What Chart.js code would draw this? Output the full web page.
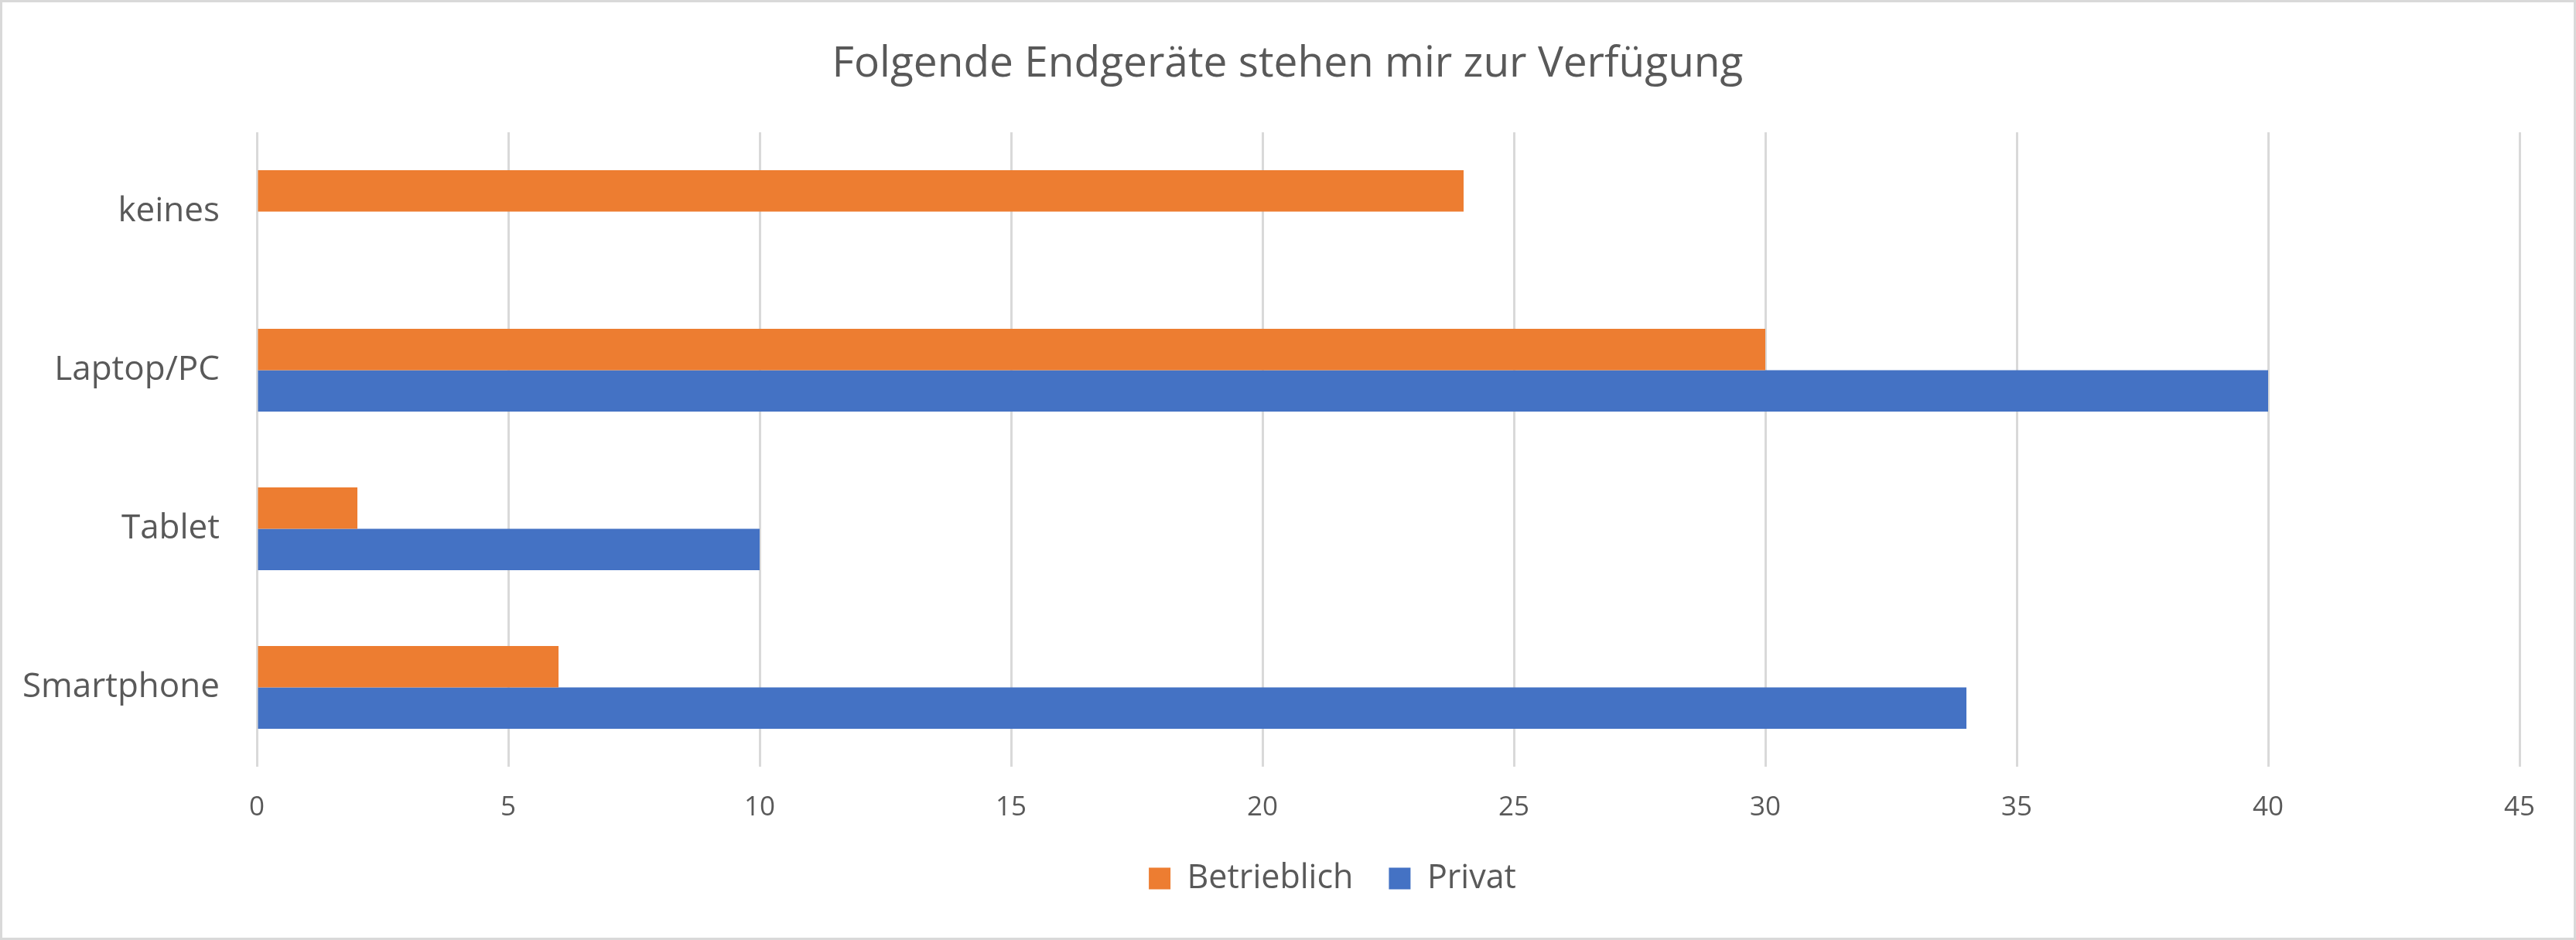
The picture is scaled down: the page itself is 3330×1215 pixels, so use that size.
<!DOCTYPE html>
<html>
<head>
<meta charset="utf-8">
<script src="https://cdn.jsdelivr.net/npm/chart.js@4.4.1/dist/chart.umd.min.js"></script>
<style>
  html, body { margin: 0; padding: 0; background: #fff; }
  canvas { display: block; }
</style>
</head>
<body>
<canvas id="devices-chart" width="3330" height="1215"></canvas>
<script>
// chart data
const categories = ['keines', 'Laptop/PC', 'Tablet', 'Smartphone'];
const betrieblich = [24, 30, 2, 6];
const privat = [0, 40, 10, 34];
const seriesNames = ['Betrieblich', 'Privat'];
const xMin = 0;
const xMax = 45;
const xStep = 5;

const textGrey = '#595959';
const gridGrey = '#D9D9D9';
const fontFamily = '"Open Sans", "Noto Sans", sans-serif';

// white background + thin grey frame like the Excel chart area
const frame = {
    id: 'frame',
    beforeDraw(chart) {
        const c = chart.ctx;
        c.save();
        c.fillStyle = '#ffffff';
        c.fillRect(0, 0, chart.width, chart.height);
        c.restore();
    },
    afterDraw(chart) {
        const c = chart.ctx;
        c.save();
        c.strokeStyle = gridGrey;
        c.lineWidth = 3;
        c.strokeRect(1.5, 1.5, chart.width - 3, chart.height - 3);
        c.restore();
    }
};

// the right padding pulls title/legend left, push them back
// (Excel also puts the legend a bit right of centre)
const boxShift = {
    id: 'boxShift',
    afterLayout(chart) {
        chart.titleBlock.left += 36;
        chart.titleBlock.right += 36;
        chart.legend.left += 94;
        chart.legend.right += 94;
    }
};

const ctx = document.getElementById('devices-chart').getContext('2d');
const devicesChart = new Chart(ctx, {
    type: 'bar',
    data: {
        labels: categories,
        datasets: [{
            label: seriesNames[0],
            data: betrieblich,
            backgroundColor: '#ED7D31',
            borderWidth: 0
        }, {
            label: seriesNames[1],
            data: privat,
            backgroundColor: '#4472C4',
            borderWidth: 0
        }]
    },
    options: {
        indexAxis: 'y',
        responsive: false,
        animation: false,
        devicePixelRatio: 1,
        categoryPercentage: 0.523,
        barPercentage: 1,
        layout: {
            padding: { left: 0, right: 73, top: 0, bottom: 48 }
        },
        scales: {
            x: {
                min: xMin,
                max: xMax,
                ticks: {
                    stepSize: xStep,
                    color: textGrey,
                    font: { family: fontFamily, size: 35 },
                    padding: 32
                },
                grid: {
                    color: gridGrey,
                    lineWidth: 3,
                    drawTicks: false
                },
                border: { display: false },
                afterFit(axis) { axis.height = 77; }
            },
            y: {
                ticks: {
                    color: textGrey,
                    font: { family: fontFamily, size: 44 },
                    padding: 48
                },
                grid: { display: false, drawTicks: false },
                border: { display: false },
                afterFit(axis) { axis.width = 332; }
            }
        },
        plugins: {
            title: {
                display: true,
                text: 'Folgende Endgeräte stehen mir zur Verfügung',
                color: textGrey,
                font: { family: fontFamily, size: 55, weight: 'normal' },
                padding: { top: 50, bottom: 55 }
            },
            legend: {
                position: 'bottom',
                labels: {
                    color: textGrey,
                    font: { family: fontFamily, size: 43 },
                    boxWidth: 28,
                    boxHeight: 28,
                    padding: 46
                }
            },
            tooltip: { enabled: false }
        }
    },
    plugins: [frame, boxShift]
});
</script>
</body>
</html>
